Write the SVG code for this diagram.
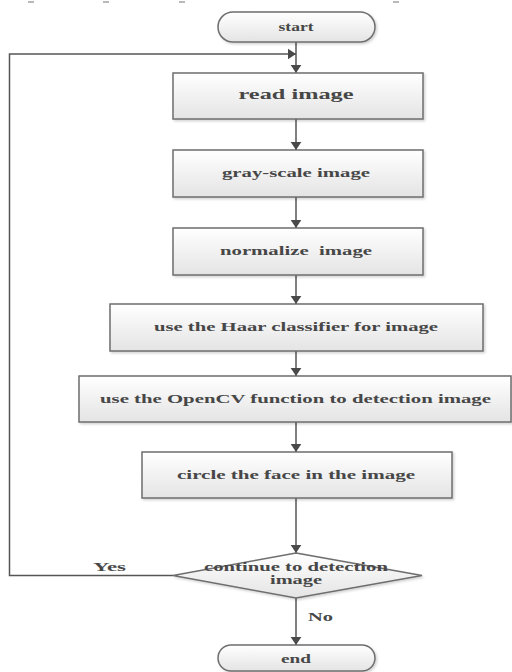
<svg xmlns="http://www.w3.org/2000/svg" width="512" height="672" viewBox="0 0 512 672">
  <defs>
    <linearGradient id="boxFill" x1="0" y1="0" x2="0" y2="1">
      <stop offset="0" stop-color="#ffffff"/>
      <stop offset="1" stop-color="#e4e4e4"/>
    </linearGradient>
    <filter id="shadow" x="-5%" y="-10%" width="115%" height="130%">
      <feDropShadow dx="1.5" dy="1.5" stdDeviation="1" flood-color="#000" flood-opacity="0.18"/>
    </filter>
    <marker id="arrow" viewBox="0 0 10 12" refX="9" refY="6" markerWidth="9" markerHeight="12" markerUnits="userSpaceOnUse" orient="auto">
      <path d="M0,0 L9,6 L0,12 Z" fill="#4a4a4a"/>
    </marker>
  </defs>
  <style>
    .shape { fill: url(#boxFill); stroke: #6e6e6e; stroke-width: 1.5; filter: url(#shadow); }
    .label { font-family: "Liberation Serif", "Times New Roman", serif; font-weight: bold; fill: #474747; text-anchor: middle; font-size: 11.5px; }
    .big { font-size: 14px; }
    .edge { fill: none; stroke: #555555; stroke-width: 1.5; }
    .tick { stroke: #8a8a8a; stroke-width: 1.2; }
  </style>

  <rect width="512" height="672" fill="#ffffff"/>

  <!-- clipped fragments along the top edge -->
  <g id="top-fragments">
    <line class="tick" x1="28" y1="2" x2="34" y2="2"/>
    <line class="tick" x1="103" y1="2" x2="109" y2="2"/>
    <line class="tick" x1="179" y1="2" x2="185" y2="2"/>
    <line class="tick" x1="393" y1="2" x2="399" y2="2"/>
  </g>

  <g id="connectors">
    <line class="edge" x1="296" y1="42" x2="296" y2="73" marker-end="url(#arrow)"/>
    <polyline class="edge" points="173,575.5 9.5,575.5 9.5,54 296,54" marker-end="url(#arrow)"/>
    <line class="edge" x1="296" y1="119" x2="296" y2="150" marker-end="url(#arrow)"/>
    <line class="edge" x1="296" y1="197" x2="296" y2="228" marker-end="url(#arrow)"/>
    <line class="edge" x1="296" y1="275" x2="296" y2="304" marker-end="url(#arrow)"/>
    <line class="edge" x1="296" y1="351" x2="296" y2="376" marker-end="url(#arrow)"/>
    <line class="edge" x1="296" y1="422" x2="296" y2="452" marker-end="url(#arrow)"/>
    <line class="edge" x1="296" y1="498" x2="296" y2="553" marker-end="url(#arrow)"/>
    <line class="edge" x1="296" y1="598" x2="296" y2="645" marker-end="url(#arrow)"/>
    <text class="label" x="109.5" y="571" textLength="33" lengthAdjust="spacingAndGlyphs">Yes</text>
    <text class="label" x="320.5" y="621" textLength="25" lengthAdjust="spacingAndGlyphs">No</text>
  </g>

  <g id="start">
    <rect class="shape" x="218" y="12" width="157" height="30" rx="15"/>
    <text class="label" x="296" y="30.5" textLength="35" lengthAdjust="spacingAndGlyphs">start</text>
  </g>

  <g id="read-image">
    <rect class="shape" x="173" y="73" width="250" height="46"/>
    <text class="label big" x="296" y="98.5" textLength="115" lengthAdjust="spacingAndGlyphs">read image</text>
  </g>

  <g id="gray-scale">
    <rect class="shape" x="173" y="150" width="250" height="47"/>
    <text class="label" x="296" y="176.5" textLength="148" lengthAdjust="spacingAndGlyphs">gray-scale image</text>
  </g>

  <g id="normalize">
    <rect class="shape" x="173" y="228" width="250" height="47"/>
    <text class="label" x="296" y="254.5" textLength="152" lengthAdjust="spacingAndGlyphs" xml:space="preserve">normalize  image</text>
  </g>

  <g id="haar">
    <rect class="shape" x="110" y="304" width="373" height="47"/>
    <text class="label" x="296" y="331" textLength="284" lengthAdjust="spacingAndGlyphs">use the Haar classifier for image</text>
  </g>

  <g id="opencv">
    <rect class="shape" x="79" y="376" width="432" height="46"/>
    <text class="label" x="295.5" y="402.5" textLength="391" lengthAdjust="spacingAndGlyphs">use the OpenCV function to detection image</text>
  </g>

  <g id="circle-face">
    <rect class="shape" x="142" y="452" width="310" height="46"/>
    <text class="label" x="296" y="478.5" textLength="238" lengthAdjust="spacingAndGlyphs">circle the face in the image</text>
  </g>

  <g id="decision">
    <polygon class="shape" points="296,553 422,575.5 296,598 173,575.5"/>
    <text class="label" x="296" y="571" textLength="184" lengthAdjust="spacingAndGlyphs">continue to detection</text>
    <text class="label" x="296" y="584" textLength="52" lengthAdjust="spacingAndGlyphs">image</text>
  </g>

  <g id="end">
    <rect class="shape" x="218" y="645" width="157" height="26" rx="13"/>
    <text class="label" x="296" y="662.5" textLength="30" lengthAdjust="spacingAndGlyphs">end</text>
  </g>
</svg>
